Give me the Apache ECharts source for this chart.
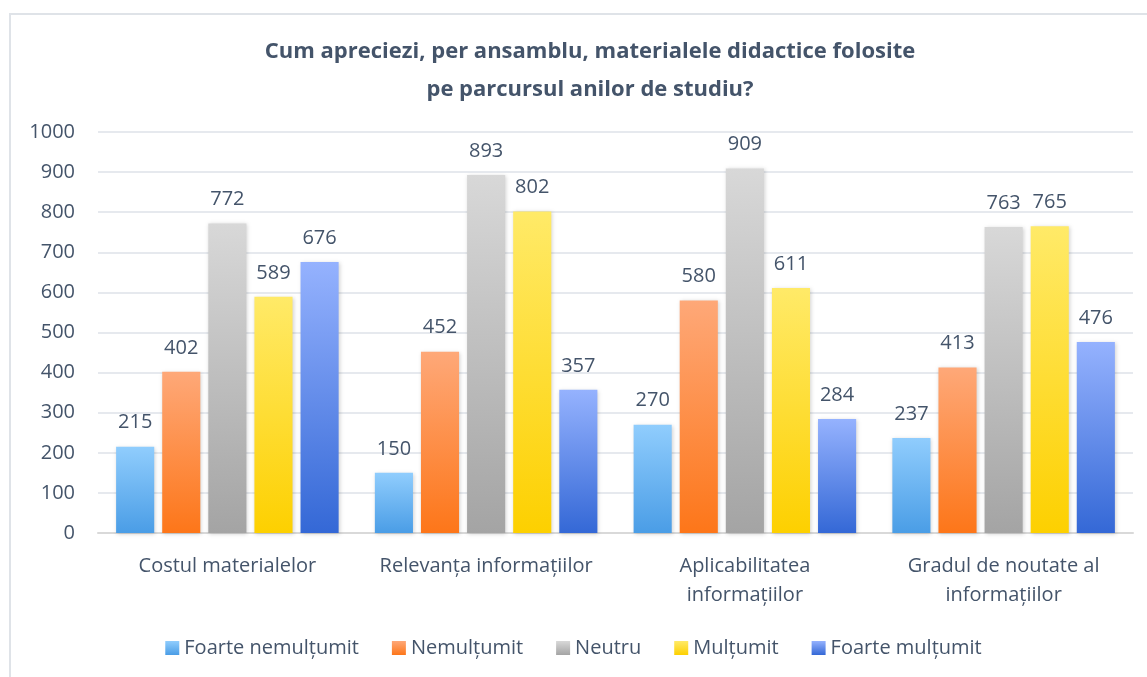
<!DOCTYPE html>
<html>
<head>
<meta charset="utf-8">
<script src="https://cdn.jsdelivr.net/npm/echarts@6/dist/echarts.min.js"></script>
<style>
  html, body { margin: 0; padding: 0; background: #fff; }
  .frame { position: absolute; left: 9px; top: 13px; width: 1160px; height: 700px; border: 2px solid #dfe3e8; box-sizing: border-box; }
  #chart { position: absolute; left: 0; top: 0; width: 1147px; height: 677px; }
</style>
</head>
<body>
<div class="frame"></div>
<div id="chart"></div>
<script>
const categories = ['Costul materialelor', 'Relevanța informațiilor', 'Aplicabilitatea\ninformațiilor', 'Gradul de noutate al\ninformațiilor']
const seriesNames = ['Foarte nemulțumit', 'Nemulțumit', 'Neutru', 'Mulțumit', 'Foarte mulțumit']
const foarteNemultumit = [215, 150, 270, 237]
const nemultumit = [402, 452, 580, 413]
const neutru = [772, 893, 909, 763]
const multumit = [589, 802, 611, 765]
const foarteMultumit = [676, 357, 284, 476]
const yTicks = { min: 0, max: 1000, interval: 100 }

const values = [foarteNemultumit, nemultumit, neutru, multumit, foarteMultumit]
const colorStops = [
  ['#90cdfd', '#4a9de6'],
  ['#fea878', '#fd7619'],
  ['#d8d8d8', '#a4a4a4'],
  ['#ffea68', '#fdd000'],
  ['#95b2fe', '#3468d6']
]
const textColor = '#44546a'
const fontFam = '"Open Sans", "Noto Sans", sans-serif'

function grad (c) {
  return new echarts.graphic.LinearGradient(0, 0, 0, 1, [
    {offset: 0, color: c[0]},
    {offset: 1, color: c[1]}
  ])
}

const chart = echarts.init(document.getElementById('chart'))
chart.setOption({
  title: {
    text: 'Cum apreciezi, per ansamblu, materialele didactice folosite\npe parcursul anilor de studiu?',
    left: 585,
    textAlign: 'center',
    top: 28,
    textStyle: {
      color: textColor,
      fontFamily: fontFam,
      fontSize: 22,
      fontWeight: 'bold',
      lineHeight: 38
    }
  },
  legend: {
    data: seriesNames,
    bottom: 14,
    left: 'center',
    itemWidth: 14,
    itemHeight: 14,
    itemGap: 33,
    icon: 'rect',
    textStyle: {color: textColor, fontFamily: fontFam, fontSize: 20, padding: [0, 0, 0, 0]}
  },
  grid: {left: 98, right: 14, top: 132, bottom: 144},
  xAxis: {
    type: 'category',
    data: categories,
    axisLine: {lineStyle: {color: '#d9d9d9', width: 2}},
    axisTick: {show: false},
    axisLabel: {
      interval: 0,
      color: textColor,
      fontFamily: fontFam,
      fontSize: 20,
      lineHeight: 29,
      margin: 19
    }
  },
  yAxis: {
    type: 'value',
    min: yTicks.min,
    max: yTicks.max,
    interval: yTicks.interval,
    axisLine: {show: false},
    axisTick: {show: false},
    axisLabel: {color: textColor, fontFamily: fontFam, fontSize: 20, margin: 23, formatter: v => String(v)},
    splitLine: {lineStyle: {color: '#dee2e8', width: 1.5}}
  },
  series: seriesNames.map((name, i) => ({
    name: name,
    type: 'bar',
    data: values[i],
    barGap: '21%',
    barCategoryGap: '14%',
    itemStyle: {
      color: grad(colorStops[i]),
      shadowColor: 'rgba(0,0,0,0.18)',
      shadowBlur: 4,
      shadowOffsetX: 1,
      shadowOffsetY: 1
    },
    label: {
      show: true,
      position: 'top',
      distance: 14,
      color: textColor,
      fontFamily: fontFam,
      fontSize: 20
    }
  }))
})
</script>
</body>
</html>
